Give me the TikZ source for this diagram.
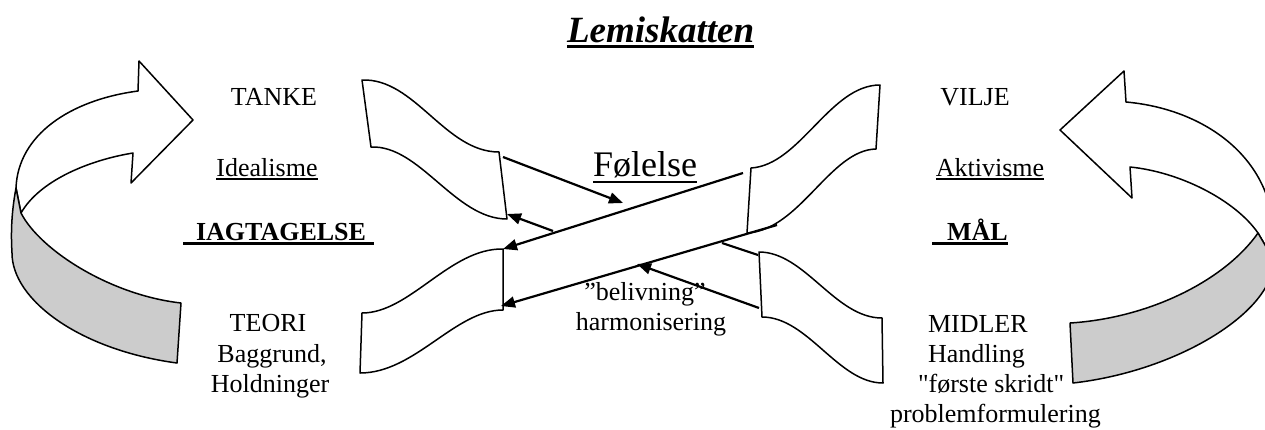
\documentclass[tikz,border=0pt]{standalone}
\usepackage{fontspec}
\setmainfont{Liberation Serif}[Ligatures=TeXOff]
\usetikzlibrary{arrows.meta}
\definecolor{bandgray}{RGB}{204,204,204}
\newsavebox\ulbox
\newcommand{\ulx}[3]{\sbox\ulbox{#3}\rlap{\rule[#1]{\wd\ulbox}{#2}}\usebox\ulbox}
\begin{document}
\begin{tikzpicture}[x=1pt,y=-1pt,
  txt/.style={inner sep=0pt,outer sep=0pt,font=\fontsize{26}{30}\selectfont},
  boldtxt/.style={txt,font=\fontsize{26}{30}\selectfont\bfseries},
  shapeline/.style={line width=1.5pt,line join=round},
  ribbon/.style={shapeline,fill=white},
  conn/.style={line width=2.2pt,-{Triangle[length=14pt,width=11pt]}},
  plainline/.style={line width=2.2pt}]
\useasboundingbox (0,0) rectangle (1265,429);

% left curved block arrow
\draw[shapeline,fill=white] (138,91) .. controls (70,100) and (18,135) .. (16,188)
  -- (21,213) .. controls (40,180) and (90,160) .. (133,153)
  -- (131,183) -- (193,120) -- (139,61) -- cycle;
\draw[shapeline,fill=bandgray] (16,188) .. controls (11,215) and (11,235) .. (12,253)
  .. controls (12,300) and (80,350) .. (177,363) -- (181,303)
  .. controls (110,295) and (40,250) .. (21,213) -- cycle;

% right curved block arrow
\draw[shapeline,fill=white] (1126,102) .. controls (1215,110) and (1285,170) .. (1272,257)
  -- (1258,233) .. controls (1235,200) and (1180,172) .. (1130,167)
  -- (1132,198) -- (1060,130) -- (1124,71) -- cycle;
\draw[shapeline,fill=bandgray] (1258,233) -- (1272,257) -- (1272,272)
  .. controls (1260,320) and (1170,372) .. (1073,383) -- (1070,323)
  .. controls (1150,318) and (1225,280) .. (1258,233) -- cycle;

% ribbons
\draw[ribbon] (362,80) .. controls (415,78) and (445,152) .. (499,152) -- (507,219)
  .. controls (455,219) and (420,145) .. (371,147) -- cycle;
\draw[ribbon] (362,313) .. controls (410,313) and (450,248) .. (503,249) -- (503,310)
  .. controls (455,310) and (415,373) .. (360,373) -- cycle;
\draw[ribbon] (751,168) .. controls (800,165) and (830,85) .. (880,85) -- (876,149)
  .. controls (830,150) and (800,230) .. (747,233) -- cycle;
\draw[ribbon] (759,252) .. controls (805,252) and (835,318) .. (882,318) -- (883,383)
  .. controls (838,383) and (808,317) .. (762,317) -- cycle;

% connector end points
\coordinate (a1s) at (503,157); \coordinate (a1e) at (623,203);
\coordinate (a2s) at (553,231); \coordinate (a2e) at (507,214);
\coordinate (a3s) at (743,173); \coordinate (a3e) at (503,249);
\coordinate (a4s) at (777,225); \coordinate (a4e) at (501,306);
\coordinate (a5s) at (759,308); \coordinate (a5e) at (637,264);
\coordinate (a6s) at (758,255); \coordinate (a6e) at (722,243);

\draw[conn] (a1s) -- (a1e);
\draw[conn] (a2s) -- (a2e);
\draw[conn] (a3s) -- (a3e);
\draw[conn] (a4s) -- (a4e);
\draw[conn] (a5s) -- (a5e);
\draw[plainline] (a6s) -- (a6e);

% title
\node[txt,anchor=base west,font=\fontsize{37}{42}\selectfont\bfseries\itshape] (title) at (567,42) {\ulx{-6pt}{3pt}{Lemiskatten}};

% left texts
\node[txt,anchor=base] (tanke) at (274,105) {TANKE};
\node[txt,anchor=base] (ideal) at (267,176) {\ulx{-3.5pt}{1.5pt}{Idealisme}};
\node[boldtxt,anchor=base west] (iagt) at (183,240) {\ulx{-5pt}{3pt}{\hspace*{13pt}IAGTAGELSE\hspace*{8pt}}};
\node[txt,anchor=base] (teori) at (268,331) {TEORI};
\node[txt,anchor=base] (bagg) at (272,362) {Baggrund,};
\node[txt,anchor=base] (hold) at (270,392) {Holdninger};

% right texts
\node[txt,anchor=base] (vilje) at (975,105) {VILJE};
\node[txt,anchor=base] (akt) at (990,176) {\ulx{-3.5pt}{1.5pt}{Aktivisme}};
\node[boldtxt,anchor=base west] (maal) at (932,240) {\ulx{-5pt}{3pt}{\hspace*{15pt}MÅL}};
\node[txt,anchor=base west] (midler) at (928,332) {MIDLER};
\node[txt,anchor=base west] (handl) at (928,362) {Handling};
\node[txt,anchor=base west] (forste) at (918,392) {"første skridt"};
\node[txt,anchor=base west] (probl) at (890,422) {problemformulering};

% centre texts
\node[txt,anchor=base west,font=\fontsize{36}{40}\selectfont] (fol) at (593,176) {\ulx{-7pt}{2pt}{Følelse}};
\node[txt,anchor=base] (beliv) at (645,300) {”belivning”};
\node[txt,anchor=base] (harm) at (651,330) {harmonisering};
\end{tikzpicture}
\end{document}
